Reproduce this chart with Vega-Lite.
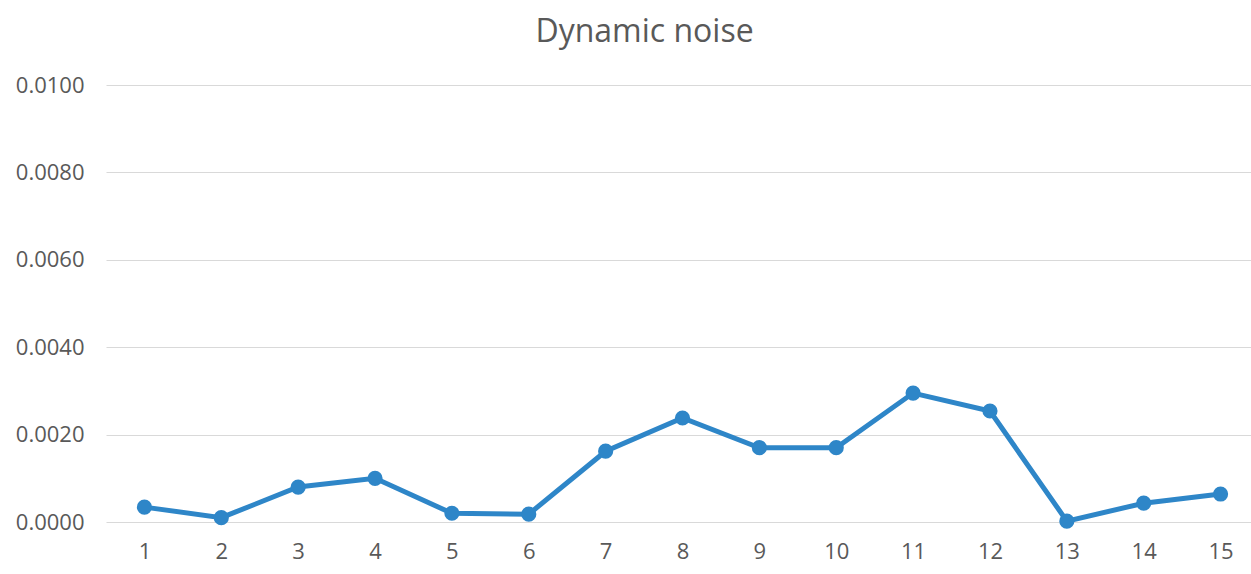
{
  "$schema": "https://vega.github.io/schema/vega-lite/v6.json",
  "autosize": {"type": "none"},
  "width": 1153,
  "height": 437,
  "padding": {"left": 106, "top": 85, "right": 0, "bottom": 52},
  "background": "white",
  "title": {
    "text": "Dynamic noise",
    "font": "Open Sans",
    "fontSize": 32,
    "fontWeight": "normal",
    "color": "#595959",
    "anchor": "middle",
    "dx": -38,
    "offset": 25
  },
  "data": {
    "values": [
      {"run": "1", "noise": 0.00034},
      {"run": "2", "noise": 0.0001},
      {"run": "3", "noise": 0.0008},
      {"run": "4", "noise": 0.001},
      {"run": "5", "noise": 0.0002},
      {"run": "6", "noise": 0.00018},
      {"run": "7", "noise": 0.00162},
      {"run": "8", "noise": 0.00238},
      {"run": "9", "noise": 0.0017},
      {"run": "10", "noise": 0.0017},
      {"run": "11", "noise": 0.00295},
      {"run": "12", "noise": 0.00254},
      {"run": "13", "noise": 0.00002},
      {"run": "14", "noise": 0.00043},
      {"run": "15", "noise": 0.00064}
    ]
  },
  "mark": {
    "type": "line",
    "color": "#2E86C8",
    "strokeWidth": 5,
    "point": {"filled": true, "size": 230, "color": "#2E86C8", "opacity": 1}
  },
  "encoding": {
    "x": {
      "field": "run",
      "type": "ordinal",
      "sort": null,
      "scale": {"type": "point", "padding": 0.5},
      "axis": {
        "title": null,
        "labelAngle": 0,
        "labelFont": "Open Sans",
        "labelFontSize": 22,
        "labelColor": "#595959",
        "labelPadding": 19,
        "ticks": false,
        "domain": false,
        "grid": false
      }
    },
    "y": {
      "field": "noise",
      "type": "quantitative",
      "scale": {"domain": [0, 0.01], "nice": false},
      "axis": {
        "title": null,
        "values": [0, 0.002, 0.004, 0.006, 0.008, 0.01],
        "format": ".4f",
        "labelFont": "Open Sans",
        "labelFontSize": 22,
        "labelColor": "#595959",
        "labelPadding": 22,
        "ticks": false,
        "domain": false,
        "grid": true,
        "gridColor": "#D9D9D9",
        "gridWidth": 1.2
      }
    }
  },
  "config": {"view": {"stroke": null}}
}
